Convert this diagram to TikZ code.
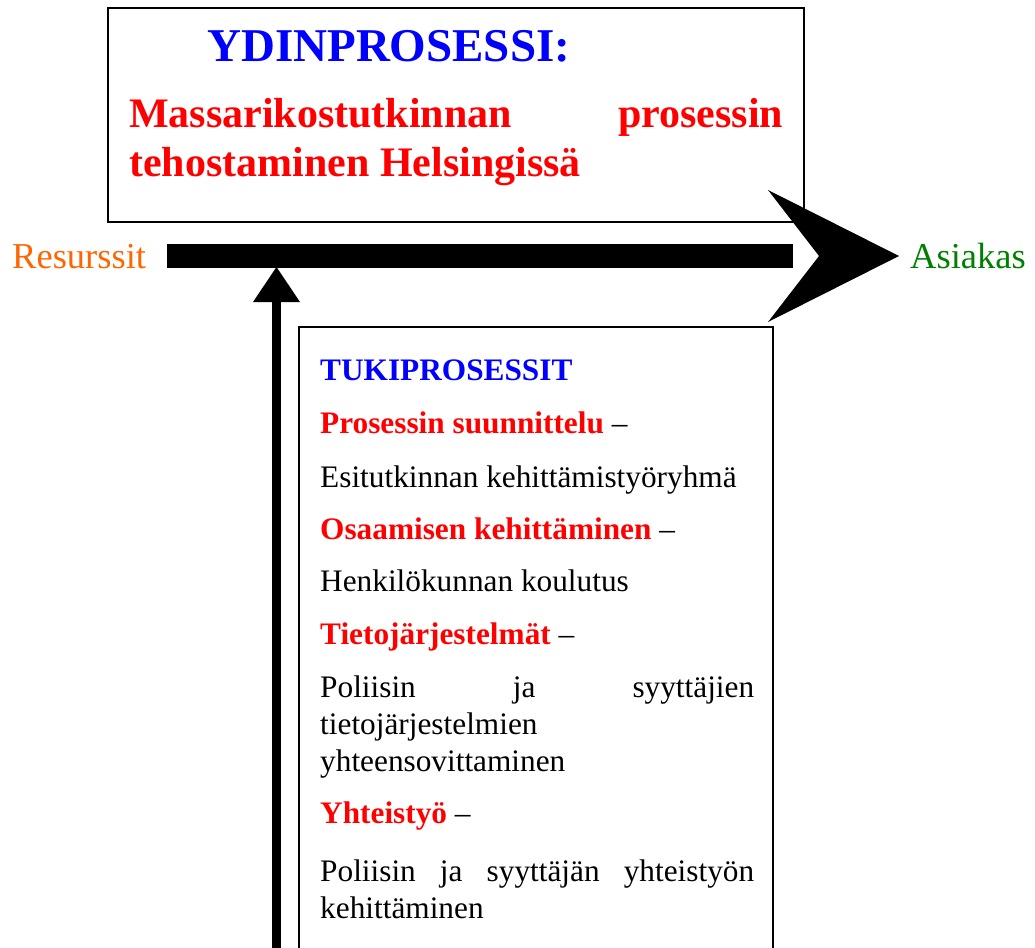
\documentclass[tikz,border=0pt]{standalone}
\usepackage{fontspec}
\setmainfont{Liberation Serif}
\definecolor{sininen}{RGB}{0,0,255}
\definecolor{punainen}{RGB}{255,0,0}
\definecolor{oranssi}{RGB}{255,102,0}
\definecolor{vihrea}{RGB}{0,128,0}
\tikzset{
  teksti/.style={anchor=base west,inner sep=0pt},
  leipa/.style={teksti,font=\fontsize{31.3}{37}\selectfont},
  korostus/.style={teksti,font=\fontsize{31.3}{37}\selectfont\bfseries,text=punainen},
}
\newcommand{\viiva}{\normalfont\color{black}\ –}
\begin{document}
\begin{tikzpicture}[x=1pt,y=-1pt]
\useasboundingbox (0,0) rectangle (1035,947);

% Laatikot
\draw[line width=1.8pt] (108,8) rectangle (804,222);
\draw[line width=1.8pt] (299,950) -- (299,327) -- (773,327) -- (773,950);

% Ydinprosessi
\node[teksti,font=\fontsize{47}{54}\selectfont\bfseries,text=sininen] (ydin) at (207,62) {YDINPROSESSI:};
\node[teksti,font=\fontsize{42}{48}\selectfont\bfseries,text=punainen] (massa1) at (129,128)
  {\makebox[654pt][s]{Massarikostutkinnan prosessin}};
\node[teksti,font=\fontsize{42}{48}\selectfont\bfseries,text=punainen] (massa2) at (129,176)
  {tehostaminen Helsingissä};

% Resurssit ja asiakas
\node[teksti,font=\fontsize{36.5}{42}\selectfont,text=oranssi] (resurssit) at (12,268) {Resurssit};
\node[teksti,font=\fontsize{36.5}{42}\selectfont,text=vihrea] (asiakas) at (910,268) {Asiakas};

% Paanuoli
\coordinate (alku) at (167,256);
\coordinate (loppu) at (793,256);
\coordinate (karki) at (899,256);
\draw[line width=24pt] (alku) -- (loppu);
\fill (karki) -- (768,190) -- (819,256) -- (768,322) -- cycle;

% Tukinuoli
\coordinate (ala) at (276.5,950);
\coordinate (kanta) at (276.5,302);
\coordinate (ylakarki) at (276.5,267);
\draw[line width=9pt] (ala) -- (kanta);
\fill (ylakarki) -- (253,302) -- (300,302) -- cycle;

% Tukiprosessit
\node[teksti,font=\fontsize{31.3}{37}\selectfont\bfseries,text=sininen] (tuki) at (320,380) {TUKIPROSESSIT};
\node[korostus] (suunnittelu) at (320,433) {Prosessin suunnittelu\viiva};
\node[leipa] (esitutkinta) at (320,487) {Esitutkinnan kehittämistyöryhmä};
\node[korostus] (osaaminen) at (320,539) {Osaamisen kehittäminen\viiva};
\node[leipa] (koulutus) at (320,591) {Henkilökunnan koulutus};
\node[korostus] (tieto) at (320,644) {Tietojärjestelmät\viiva};
\node[leipa] (tieto1) at (320,697) {\makebox[434pt][s]{Poliisin ja syyttäjien}};
\node[leipa] (tieto2) at (320,734) {tietojärjestelmien};
\node[leipa] (tieto3) at (320,771) {yhteensovittaminen};
\node[korostus] (yhteistyo) at (320,823) {Yhteistyö\viiva};
\node[leipa] (yhteis1) at (320,881) {\makebox[434pt][s]{Poliisin ja syyttäjän yhteistyön}};
\node[leipa] (yhteis2) at (320,918) {kehittäminen};
\end{tikzpicture}
\end{document}
